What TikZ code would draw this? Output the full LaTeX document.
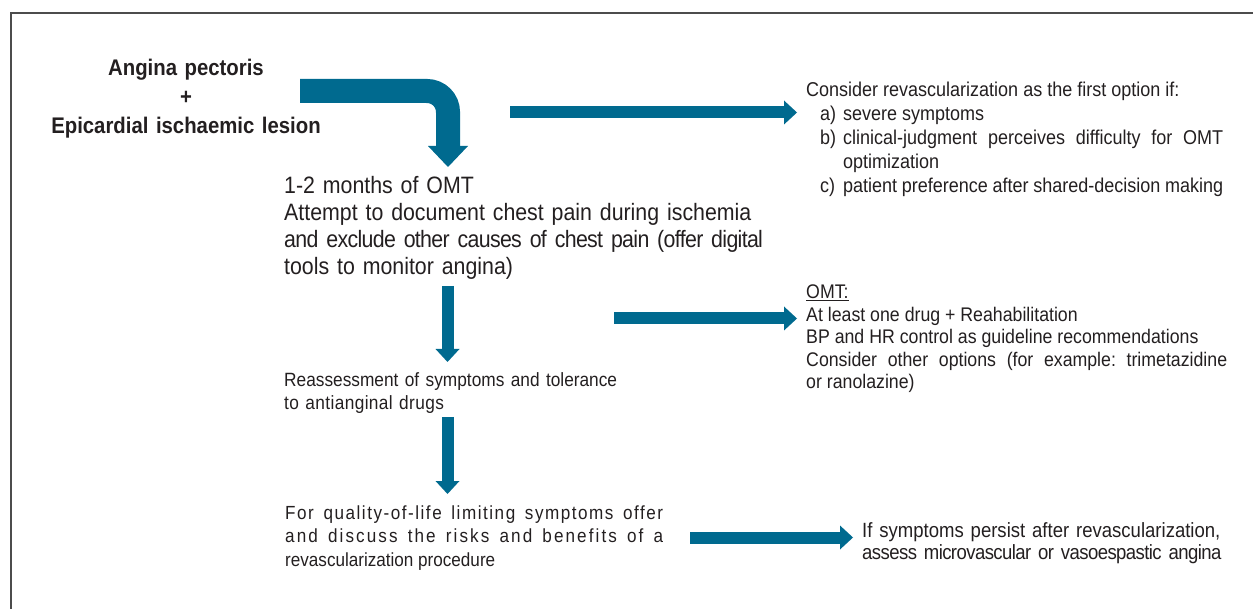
\documentclass[tikz,border=0pt]{standalone}
\usepackage{fontspec}
\setmainfont[FakeStretch=0.9]{Liberation Sans}
\usetikzlibrary{arrows.meta}
\definecolor{arrowblue}{RGB}{0,106,143}
\definecolor{inkgray}{RGB}{35,31,32}
\setlength\parindent{0pt}
\frenchspacing
\newcommand\fsz[2]{\fontsize{#1}{#2}\selectfont}
\newcommand\optitem[2]{\par\hangindent=37pt\hangafter=1\noindent
  \hspace*{14pt}\makebox[23pt][l]{#1}#2}
\newcommand\spaced[2]{{\addfontfeature{LetterSpace=#1}#2}}

\begin{document}
\begin{tikzpicture}[x=1pt,y=-1pt,
    flow/.style={arrowblue,line width=12pt,
      -{Triangle[width=24pt,length=13pt,line width=0pt]}},
    bentflow/.style={arrowblue,line width=24pt,rounded corners=21pt,
      -{Triangle[width=40pt,length=21pt,line width=0pt]}},
    txt/.style={inkgray,inner sep=0pt,anchor=base west,align=left}]
  \useasboundingbox (0,0) rectangle (1253,609);
  \draw[gray!60!black,line width=1.5pt] (11,609) -- (11,13) -- (1253,13);

  \node[txt,anchor=base,align=center,text width=340pt,
    font=\bfseries\fsz{22.6}{29}] (angina) at (186,76)
    {Angina pectoris\\+\\Epicardial ischaemic lesion};
  \node[txt,text width=560pt,font=\fsz{23.7}{27}] (months) at (284,194)
    {1-2 months of OMT\\Attempt to document chest pain during ischemia\\
     \spaced{-2.8}{and exclude other causes of chest pain (offer digital}\\
     tools to monitor angina)};
  \node[txt,text width=400pt,font=\fsz{19.2}{23}] (reassess) at (284,387)
    {Reassessment of symptoms and tolerance\\
     \spaced{2}{to antianginal drugs}};
  \node[txt,text width=378pt,align=justify,font=\fsz{19}{23.5}] (quality)
    at (285,519)
    {\spaced{8}{For quality-of-life limiting symptoms offer\linebreak}
     \spaced{11}{and discuss the risks and benefits of a\linebreak}
     revascularization procedure};
  \node[txt,text width=417pt,align=justify,font=\fsz{20}{24}] (firstopt)
    at (806,97)
    {Consider revascularization as the first option if:
     \optitem{a)}{severe symptoms}
     \optitem{b)}{clinical-judgment perceives difficulty for OMT\linebreak
       optimization}
     \optitem{c)}{patient preference after shared-decision making}};
  \node[txt,text width=421pt,align=justify,font=\fsz{19.7}{22.5}] (omt)
    at (806,299)
    {\underline{OMT:}\par At least one drug + Reahabilitation\par
     BP and HR control as guideline recommendations\par
     Consider other options (for example: trimetazidine\linebreak
     or ranolazine)};
  \node[txt,text width=420pt,font=\fsz{20.6}{22.5}] (persist) at (862,537)
    {If symptoms persist after revascularization,\\
     \spaced{-2.8}{assess microvascular or vasoespastic angina}};

  \coordinate (b0) at (300,91);
  \coordinate (b1) at (448,91);
  \coordinate (b2) at (448,167);
  \draw[bentflow] (b0) -- (b1) -- (b2);
  \coordinate (a1s) at (510,112.5);
  \coordinate (a1e) at (797,112.5);
  \draw[flow] (a1s) -- (a1e);
  \coordinate (a2s) at (447.5,286);
  \coordinate (a2e) at (447.5,362);
  \draw[flow] (a2s) -- (a2e);
  \coordinate (a3s) at (614,318.5);
  \coordinate (a3e) at (797,318.5);
  \draw[flow] (a3s) -- (a3e);
  \coordinate (a4s) at (447.5,417);
  \coordinate (a4e) at (447.5,494);
  \draw[flow] (a4s) -- (a4e);
  \coordinate (a5s) at (690,537.5);
  \coordinate (a5e) at (853,537.5);
  \draw[flow] (a5s) -- (a5e);
\end{tikzpicture}
\end{document}
